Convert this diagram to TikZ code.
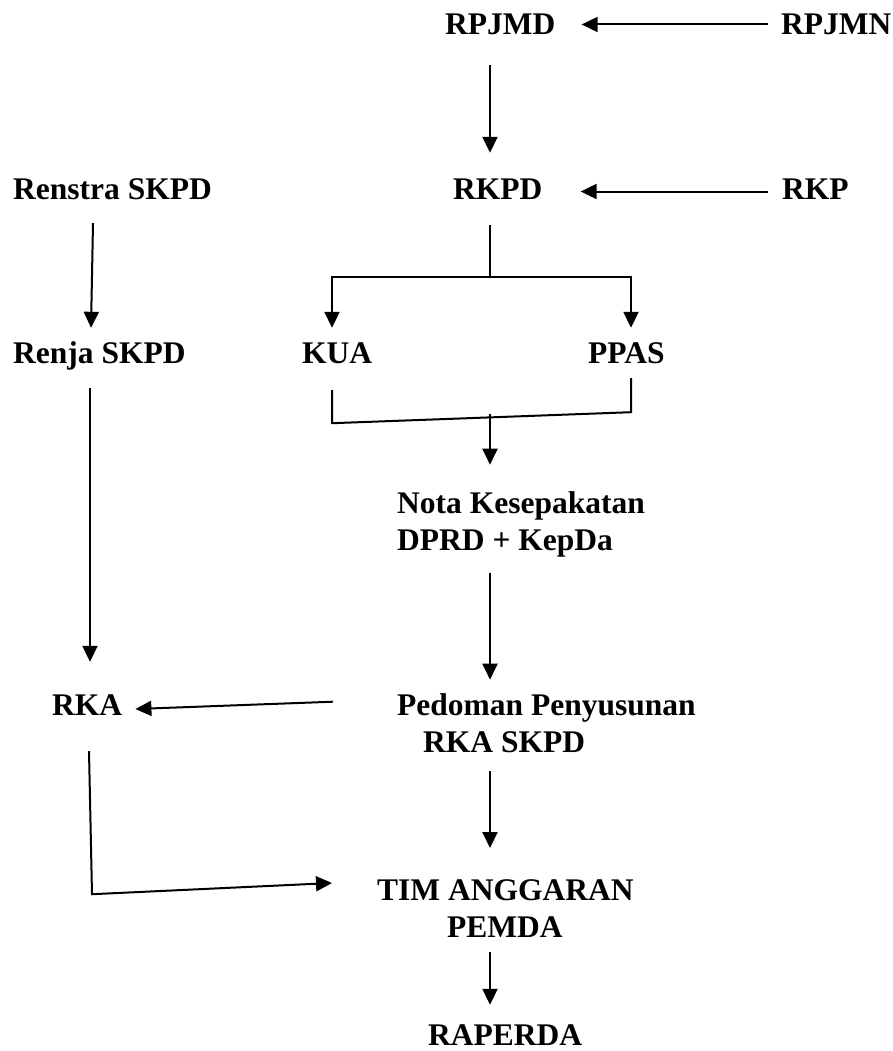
\documentclass[tikz,border=0pt]{standalone}
\usepackage{fontspec}
\setmainfont{Liberation Serif}
\usetikzlibrary{arrows.meta,calc}
\begin{document}
\begin{tikzpicture}[x=1pt,y=-1pt,
  lbl/.style={font=\bfseries\fontsize{31.5}{37}\selectfont,inner sep=0pt,text height=21pt,text depth=0pt,anchor=base west},
  mlbl/.style={font=\bfseries\fontsize{31.5}{37}\selectfont,inner sep=0pt,align=left,anchor=north west},
  ln/.style={line width=2pt},
  arr/.style={ln,-{Triangle[length=16pt,width=15pt]}}]
\path[use as bounding box] (0,0) rectangle (893,1051);
% nodes
\node[lbl] (rpjmd) at (445,35) {RPJMD};
\node[lbl] (rpjmn) at (781,35) {RPJMN};
\node[lbl] (renstra) at (13,200) {Renstra SKPD};
\node[lbl] (rkpd) at (453,200) {RKPD};
\node[lbl] (rkp) at (782,200) {RKP};
\node[lbl] (renja) at (13,363) {Renja SKPD};
\node[lbl] (kua) at (302,363) {KUA};
\node[lbl] (ppas) at (588,363) {PPAS};
\node[mlbl] (nota) at (397,491.7) {Nota Kesepakatan\\DPRD + KepDa};
\node[lbl] (rka) at (52,715) {RKA};
\node[mlbl] (pedoman) at (397,693.7) {Pedoman Penyusunan\\\hspace*{26pt}RKA SKPD};
\node[mlbl] (tim) at (377,879) {TIM ANGGARAN\\\hspace*{70pt}PEMDA};
\node[lbl] (raperda) at (428,1045) {RAPERDA};
% guide columns
\coordinate (mid) at (490,0);
\coordinate (colL) at (90,0);
\coordinate (colK) at (332,0);
\coordinate (colP) at (631,0);
\coordinate (colR) at (89,0);
% connectors
\draw[arr] ($(rpjmn.west)+(-13,0)$) -- ($(rpjmd.east)+(26,0)$);
\draw[arr] ($(mid |- rpjmd.south)+(0,30)$) -- ($(mid |- rkpd.north)+(0,-26)$);
\draw[arr] ($(rkp.west)+(-14,2)$) -- ($(rkpd.east)+(38,2)$);
\draw[arr] ($(colL |- renstra.south)+(3,23)$) -- ($(colL |- renja.north)+(1,-14)$);
\draw[arr] ($(colL |- renja.south)+(0,25)$) -- ($(colL |- rka.north)+(0,-32)$);
\coordinate (fork) at ($(mid |- rkpd.south)+(0,77)$);
\draw[ln] ($(mid |- rkpd.south)+(0,25)$) -- (fork);
\draw[arr] (fork) -| ($(colK |- kua.north)+(0,-14)$);
\draw[arr] (fork) -| ($(colP |- ppas.north)+(0,-14)$);
\draw[ln] ($(colK |- kua.south)+(0,27)$) -- ($(colK |- kua.south)+(0,60)$) -- ($(colP |- ppas.south)+(0,49)$) -- ($(colP |- ppas.south)+(0,15)$);
\draw[arr] ($(mid |- kua.south)+(0,51)$) -- ($(mid |- nota.north)+(0,-27)$);
\draw[arr] ($(mid |- nota.south)+(0,15)$) -- ($(mid |- pedoman.north)+(0,-14)$);
\draw[arr] ($(pedoman.north west)+(-64,8)$) -- ($(rka.east)+(13,4.5)$);
\draw[arr] ($(colR |- rka.south)+(0,36)$) -- ($(colR |- rka.south)+(3,179)$) -- ($(tim.north west)+(-45,4)$);
\draw[arr] ($(mid |- pedoman.south)+(0,18)$) -- ($(mid |- tim.north)+(0,-31)$);
\draw[arr] ($(mid |- tim.south)+(0,15)$) -- ($(mid |- raperda.north)+(0,-19)$);
\end{tikzpicture}
\end{document}
